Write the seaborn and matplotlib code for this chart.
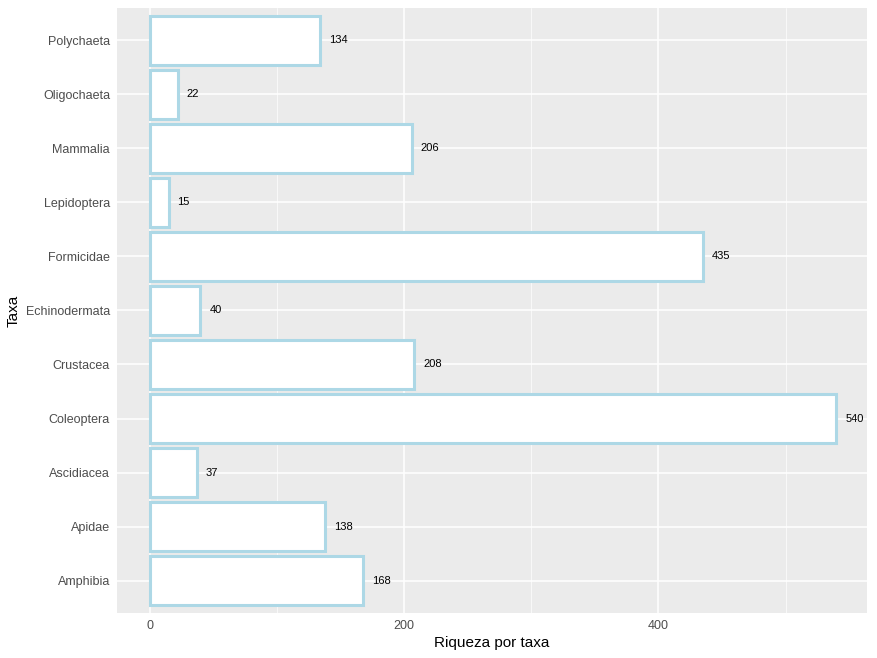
import matplotlib
matplotlib.use("Agg")
import matplotlib.pyplot as plt
import pandas as pd
import seaborn as sns
from matplotlib.ticker import MultipleLocator

taxa = ["Polychaeta", "Oligochaeta", "Mammalia", "Lepidoptera", "Formicidae",
        "Echinodermata", "Crustacea", "Coleoptera", "Ascidiacea", "Apidae", "Amphibia"]
riqueza = [134, 22, 206, 15, 435, 40, 208, 540, 37, 138, 168]

df = pd.DataFrame({"Taxa": taxa, "Riqueza": riqueza})

sns.set_theme(style="darkgrid")
plt.rcParams["font.family"] = ["Liberation Sans", "DejaVu Sans"]

fig = plt.figure(figsize=(8.77, 6.58), dpi=100)
ax = fig.add_axes([0.1334, 0.0684, 0.8552, 0.9195])
ax.set_facecolor("#EBEBEB")

sns.barplot(data=df, x="Riqueza", y="Taxa", order=taxa, orient="h",
            color="white", edgecolor="#ADD8E6", linewidth=2.2, width=0.9,
            saturation=1, ax=ax)

for i, v in enumerate(riqueza):
    ax.text(v + 7, i, str(v), va="center", ha="left", fontsize=8, color="black")

ax.set_xlim(-25.6, 564)
ax.set_ylim(10.6, -0.6)
ax.xaxis.set_major_locator(MultipleLocator(200))
ax.xaxis.set_minor_locator(MultipleLocator(100))
ax.grid(which="major", color="white", linewidth=1.1)
ax.grid(which="minor", axis="x", color="white", linewidth=0.5)
ax.set_axisbelow(True)
for s in ax.spines.values():
    s.set_visible(False)

ax.tick_params(axis="both", which="major", length=3, width=0.8, color="#333333",
               labelcolor="#4D4D4D", labelsize=9, pad=2)
ax.tick_params(axis="both", which="minor", length=0)
ax.set_xlabel("Riqueza por taxa", fontsize=11, color="black", labelpad=3)
ax.set_ylabel("Taxa", fontsize=11, color="black", labelpad=4)

fig.savefig("out.png", dpi=100)
